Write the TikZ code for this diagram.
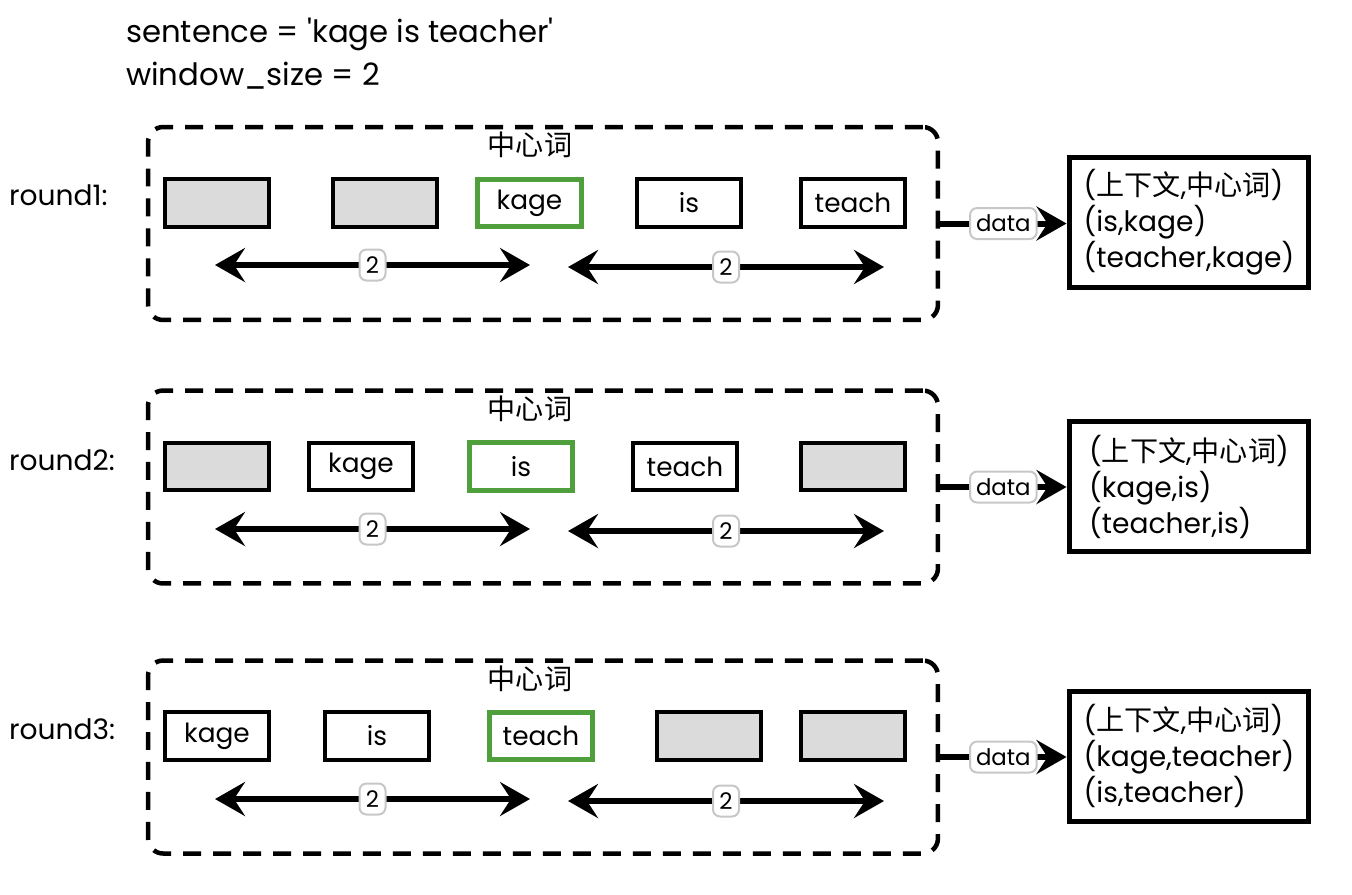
\documentclass[tikz,border=0pt]{standalone}
\usepackage{fontspec}
\setmainfont{Poppins}
\newfontfamily\cjk{Noto Sans CJK SC}
\usepackage{tikz}
\usetikzlibrary{arrows.meta}
\definecolor{centregreen}{HTML}{4F9F3C}
\newcommand{\zhtext}[1]{{\cjk #1}}

\begin{document}
\begin{tikzpicture}[x=0.02cm,y=-0.02cm,
	word/.style={draw,line width=0.085cm,minimum width=2.08cm,minimum height=0.95cm,inner sep=0pt,font=\fontsize{15}{18}\selectfont},
	blank/.style={word,fill=black!14},
	centre/.style={word,draw=centregreen,line width=0.1cm},
	frame/.style={draw,line width=0.09cm,dash pattern=on 0.36cm off 0.24cm,rounded corners=0.3cm,minimum width=15.8cm,minimum height=3.86cm},
	result/.style={draw,line width=0.1cm,minimum width=4.8cm,minimum height=2.6cm,align=left,font=\fontsize{16}{20.5}\selectfont},
	span/.style={line width=0.12cm,{Stealth[length=0.6cm,width=0.68cm,inset=0.22cm]}-{Stealth[length=0.6cm,width=0.68cm,inset=0.22cm]}},
	feed/.style={line width=0.12cm,-{Stealth[length=0.6cm,width=0.68cm,inset=0.22cm]}},
	tag/.style={draw=black!22,fill=white,line width=0.04cm,rounded corners=0.14cm,inner xsep=0.12cm,inner ysep=0.1cm,minimum width=0.52cm,minimum height=0.62cm,font=\fontsize{13}{14}\selectfont},
	roundlabel/.style={anchor=west,font=\fontsize{16}{18}\selectfont},
	headword/.style={font=\fontsize{16}{18}\selectfont\cjk},
	]
	\useasboundingbox (0,0) rectangle (1352,894);

	\node[anchor=west,align=left,font=\fontsize{17.5}{24.5}\selectfont] (title) at (120,54) {sentence = \textquotesingle kage is teacher\textquotesingle\\window\_size = 2};

	\node[frame] (r1) at (543,223.5) {};
	\node[headword] (c1) at (530,145) {中心词};
	\node[roundlabel] (l1) at (3,195) {round1:};
	\node[blank] (w11) at (217,203) {};
	\node[blank] (w12) at (385,203) {};
	\node[centre] (w13) at (529.5,203) {kage};
	\node[word] (w14) at (689,203) {is};
	\node[word] (w15) at (853,203) {teach};
	\coordinate (a11) at (215,265);
	\coordinate (a12) at (530,265);
	\coordinate (a13) at (568,267);
	\coordinate (a14) at (884,267);
	\draw[span] (a11) -- (a12) node[midway,tag] {2};
	\draw[span] (a13) -- (a14) node[midway,tag] {2};
	\node[result] (out1) at (1189,222.5) {(\zhtext{上下文},\zhtext{中心词})\\(is,kage)\\(teacher,kage)};
	\draw[feed] (r1.east) -- (r1.east -| out1.west) node[midway,tag] {data};

	\node[frame] (r2) at (543,487) {};
	\node[headword] (c2) at (530,409) {中心词};
	\node[roundlabel] (l2) at (3,460) {round2:};
	\node[blank] (w21) at (217,466.5) {};
	\node[word] (w22) at (361,466.5) {kage};
	\node[centre] (w23) at (521,466.5) {is};
	\node[word] (w24) at (685,466.5) {teach};
	\node[blank] (w25) at (853,466.5) {};
	\coordinate (a21) at (215,529);
	\coordinate (a22) at (530,529);
	\coordinate (a23) at (568,531);
	\coordinate (a24) at (884,531);
	\draw[span] (a21) -- (a22) node[midway,tag] {2};
	\draw[span] (a23) -- (a24) node[midway,tag] {2};
	\node[result] (out2) at (1189,486.5) {(\zhtext{上下文},\zhtext{中心词})\\(kage,is)\\(teacher,is)};
	\draw[feed] (r2.east) -- (r2.east -| out2.west) node[midway,tag] {data};

	\node[frame] (r3) at (543,757) {};
	\node[headword] (c3) at (530,679) {中心词};
	\node[roundlabel] (l3) at (3,729) {round3:};
	\node[word] (w31) at (217,736) {kage};
	\node[word] (w32) at (377,736) {is};
	\node[centre] (w33) at (541,736) {teach};
	\node[blank] (w34) at (709,736) {};
	\node[blank] (w35) at (853,736) {};
	\coordinate (a31) at (215,799);
	\coordinate (a32) at (530,799);
	\coordinate (a33) at (568,801);
	\coordinate (a34) at (884,801);
	\draw[span] (a31) -- (a32) node[midway,tag] {2};
	\draw[span] (a33) -- (a34) node[midway,tag] {2};
	\node[result] (out3) at (1189,756) {(\zhtext{上下文},\zhtext{中心词})\\(kage,teacher)\\(is,teacher)};
	\draw[feed] (r3.east) -- (r3.east -| out3.west) node[midway,tag] {data};
\end{tikzpicture}
\end{document}
